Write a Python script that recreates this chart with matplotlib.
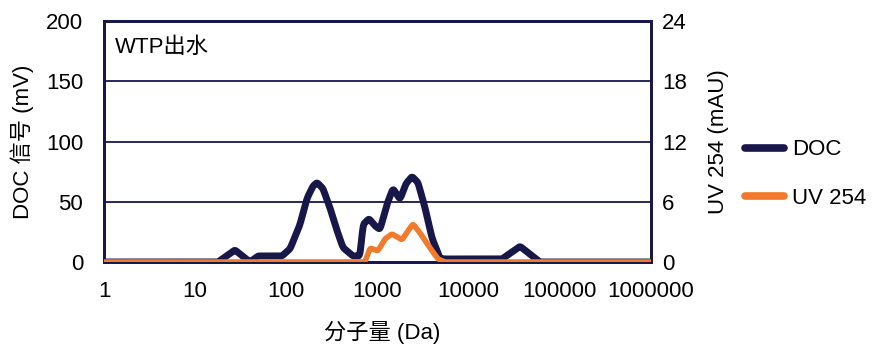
import matplotlib.pyplot as plt
import numpy as np

plt.rcParams['font.family'] = ['Liberation Sans', 'Noto Sans CJK SC', 'DejaVu Sans']

# molecular weight (Da) and signals
doc_mw = [1, 17.8, 27.3, 39.9, 48.9, 89.6, 110, 141, 169, 196, 217, 252, 301, 360, 418,
          538, 643, 693, 807, 938, 1065, 1271, 1479, 1766, 2052, 2390, 2780, 3320, 3960,
          4850, 5500, 23200, 36600, 60500, 1000000]
doc_mv = [0, 0, 10, 0, 5, 5, 11, 31, 53, 63, 66, 61, 45, 26, 12,
          5, 5, 31, 36, 30, 27, 48, 61, 52, 65, 71, 66, 45, 20,
          3, 2.5, 2.5, 13, 0, 0]

uv_mw = [1, 729, 828, 1012, 1208, 1442, 1857, 2160, 2450, 2925, 3765, 4605, 5500, 1000000]
uv_mau = [0, 0, 1.4, 1.1, 2.3, 2.8, 2.2, 3.1, 3.8, 2.9, 1.4, 0.3, 0, 0]

x_ticks = [1, 10, 100, 1000, 10000, 100000, 1000000]
x_tick_labels = ['1', '10', '100', '1000', '10000', '100000', '1000000']
left_ticks = [0, 50, 100, 150, 200]
right_ticks = [0, 6, 12, 18, 24]

NAVY = '#17174a'
ORANGE = '#f37a2b'
FS = 16


def smooth_log(xs, ys, n=1200, width=11):
    # resample on a log grid and round off the corners a little
    lx = np.log10(xs)
    grid = np.linspace(lx[0], lx[-1], n)
    yy = np.interp(grid, lx, ys)
    k = np.hanning(width)
    k /= k.sum()
    half = width // 2
    ys_s = np.convolve(np.pad(yy, half, mode='edge'), k, mode='valid')
    return 10 ** grid, ys_s


fig = plt.figure(figsize=(8.76, 3.52), dpi=100)
ax = fig.add_axes([104 / 876, 1 - 262 / 352, 547 / 876, 241 / 352])
ax2 = ax.twinx()

x1, y1 = smooth_log(doc_mw, doc_mv)
x2, y2 = smooth_log(uv_mw, uv_mau)
ax.plot(x1, y1, color=NAVY, lw=5, solid_capstyle='round', solid_joinstyle='round', label='DOC', zorder=3)
ax2.plot(x2, y2, color=ORANGE, lw=4, solid_capstyle='round', solid_joinstyle='round', label='UV 254', zorder=3)

ax.set_xscale('log')
ax.set_xlim(1, 1000000)
ax.set_ylim(0, 200)
ax2.set_ylim(0, 24)
ax.set_xticks(x_ticks)
ax.set_xticklabels(x_tick_labels)
ax.minorticks_off()
ax.set_yticks(left_ticks)
ax2.set_yticks(right_ticks)

for y in left_ticks[1:-1]:
    ax.axhline(y, color=NAVY, lw=1.3, zorder=1)

for a in (ax, ax2):
    for s in a.spines.values():
        s.set_color(NAVY)
        s.set_linewidth(2)
    a.tick_params(length=0, labelsize=FS, colors='black')
ax.tick_params(axis='y', pad=15)
ax.tick_params(axis='x', pad=14)
ax2.tick_params(axis='y', pad=8)

ax.set_ylabel('DOC 信号 (mV)', fontsize=FS)
ax.yaxis.set_label_coords(-0.128, 0.5)
ax2.set_ylabel('UV 254 (mAU)', fontsize=FS)
ax2.yaxis.set_label_coords(1.104, 0.5)
ax.set_xlabel('分子量 (Da)', fontsize=FS)
ax.xaxis.set_label_coords(0.508, -0.245)

ax.text(0.02, 0.892, 'WTP出水', transform=ax.transAxes, fontsize=FS, va='center', ha='left')

h1, l1 = ax.get_legend_handles_labels()
h2, l2 = ax2.get_legend_handles_labels()
leg = fig.legend(h1 + h2, l1 + l2, loc='center left', bbox_to_anchor=(725 / 876, 1 - 174 / 352),
                 frameon=False, fontsize=FS, handlelength=1.75, handletextpad=0.36, labelspacing=1.22)
for line in leg.get_lines():
    line.set_linewidth(5.5)

fig.savefig('out.png', dpi=100)
